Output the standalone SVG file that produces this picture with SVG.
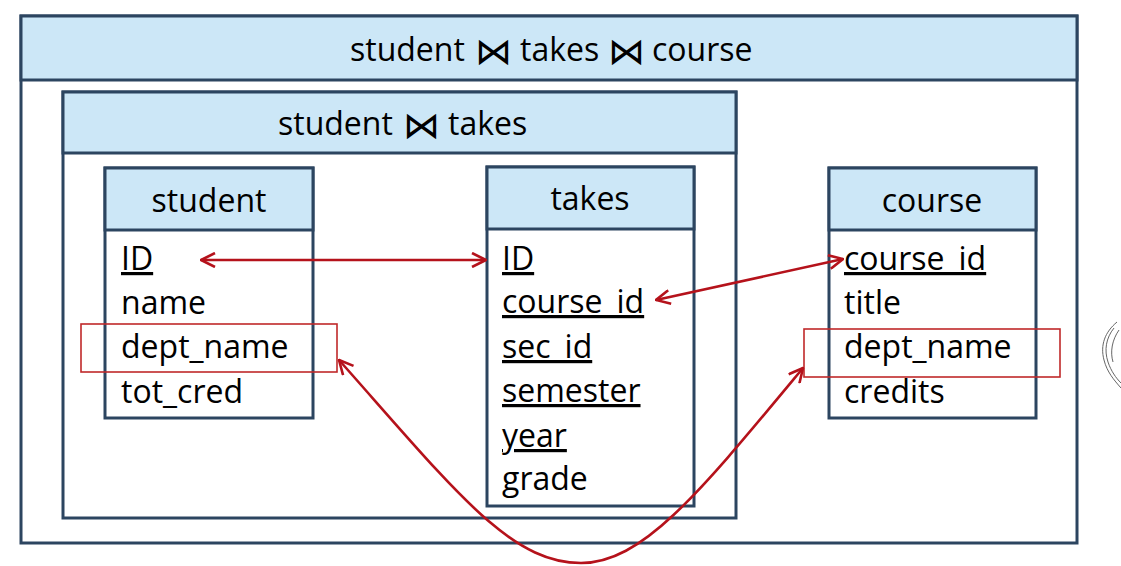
<svg xmlns="http://www.w3.org/2000/svg" width="1121" height="566" viewBox="0 0 1121 566">
<style>
.box{fill:#ffffff;stroke:#2c4560;stroke-width:3}
.hdr{fill:#cce7f7;stroke:#2c4560;stroke-width:3}
text{font-family:"Open Sans","DejaVu Sans",sans-serif;font-size:32px;fill:#000}
.c{text-anchor:middle}
.u{text-decoration:underline}
.bt{font-family:"DejaVu Sans",sans-serif;font-size:37px}
.hl{fill:none;stroke:#c0282a;stroke-width:1.6}
.arr{fill:none;stroke:#b5121b;stroke-width:2.6;marker-start:url(#ah);marker-end:url(#ah)}
.sk{fill:none;stroke:#666;stroke-width:1}
</style>
<defs>
<marker id="ah" viewBox="0 0 16 16" refX="15" refY="8" markerWidth="16" markerHeight="16" markerUnits="userSpaceOnUse" orient="auto-start-reverse">
<path d="M1,1 L15,8 L1,15" fill="none" stroke="#b5121b" stroke-width="2.6"/>
</marker>
</defs>
<rect width="1121" height="566" fill="#ffffff"/>
<g id="join-all">
<rect class="box" x="21" y="16" width="1056" height="527"/>
<rect class="hdr" x="21" y="16" width="1056" height="64"/>
<text y="61"><tspan x="350">student</tspan> <tspan class="bt" x="475" y="64">⋈</tspan> <tspan x="520" y="61">takes</tspan> <tspan class="bt" x="608" y="64">⋈</tspan> <tspan x="652" y="61">course</tspan></text>
</g>
<g id="join-student-takes">
<rect class="box" x="63" y="92" width="673" height="426"/>
<rect class="hdr" x="63" y="92" width="673" height="61"/>
<text y="135"><tspan x="278">student</tspan> <tspan class="bt" x="403" y="138">⋈</tspan> <tspan x="448" y="135">takes</tspan></text>
</g>
<g id="student">
<rect class="box" x="105" y="168" width="208" height="250"/>
<rect class="hdr" x="105" y="168" width="208" height="62"/>
<text class="c" x="209" y="212">student</text>
<text class="u" x="121" y="270">ID</text>
<text x="121" y="314">name</text>
<text x="121" y="358">dept_name</text>
<text x="121" y="403">tot_cred</text>
</g>
<g id="takes">
<rect class="box" x="487" y="167" width="207" height="339"/>
<rect class="hdr" x="487" y="167" width="207" height="62"/>
<text class="c" x="590" y="210">takes</text>
<text class="u" x="502" y="270">ID</text>
<text class="u" x="502" y="313">course_id</text>
<text class="u" x="502" y="358">sec_id</text>
<text class="u" x="502" y="402">semester</text>
<text class="u" x="502" y="447">year</text>
<text x="502" y="490">grade</text>
</g>
<g id="course">
<rect class="box" x="829" y="168" width="207" height="250"/>
<rect class="hdr" x="829" y="168" width="207" height="62"/>
<text class="c" x="932" y="212">course</text>
<text class="u" x="844" y="270">course_id</text>
<text x="844" y="314">title</text>
<text x="844" y="358">dept_name</text>
<text x="844" y="403">credits</text>
</g>
<g id="highlights">
<rect class="hl" x="81" y="324" width="256" height="48"/>
<rect class="hl" x="804" y="329" width="256" height="48"/>
</g>
<g id="connectors">
<path class="arr" d="M201,260 L486,260"/>
<path class="arr" d="M656,300 L843,259"/>
<path class="arr" d="M339,360 C456,492 510,563 581,563 C643,563 700,492 803,368"/>
</g>
<g id="sketch">
<path class="sk" d="M1117,322 C1105,332 1100,345 1104,360 C1107,372 1114,380 1121,388"/>
<path class="sk" d="M1114,328 C1106,338 1104,350 1108,362 C1111,371 1116,378 1121,383"/>
<path class="sk" d="M1119,330 C1112,340 1110,352 1113,362"/>
</g>
</svg>
